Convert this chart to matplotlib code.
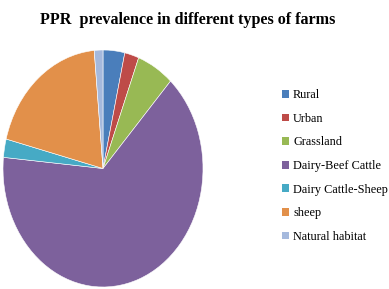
import matplotlib.pyplot as plt
from matplotlib.patches import Patch

labels = ["Rural", "Urban", "Grassland", "Dairy-Beef Cattle",
          "Dairy Cattle-Sheep", "sheep", "Natural habitat"]
values = [3.5, 2.3, 6.0, 64.7, 2.5, 19.6, 1.4]
colors = ["#4A7EBB", "#BE4B48", "#98B954", "#7D619C",
          "#46AAC5", "#E2904A", "#A5B9DD"]

W, H = 389, 289
fig = plt.figure(figsize=(W / 100, H / 100), dpi=100)

# pie is drawn stretched (ellipse) like in the original
ax = fig.add_axes([3 / W, 2 / H, 200 / W, 237 / H])
ax.pie(values, colors=colors, startangle=90, counterclock=False,
       wedgeprops=dict(edgecolor="white", linewidth=0.4))
ax.set_aspect("auto")
ax.set_xlim(-1, 1)
ax.set_ylim(-1, 1)
ax.axis("off")

fig.text(188 / W, 1 - 20 / H, "PPR  prevalence in different types of farms",
         ha="center", va="center", fontsize=11.6, fontweight="bold",
         family="Liberation Serif")

handles = [Patch(facecolor=c, edgecolor="none") for c in colors]
fig.legend(handles, labels, loc="upper left",
           bbox_to_anchor=(276 / W, 1 - 83 / H), frameon=False,
           prop=dict(family="Liberation Serif", size=8.8),
           handlelength=0.6, handleheight=0.6, handletextpad=0.3,
           labelspacing=0.95, borderpad=0)

fig.savefig("out.png", dpi=100)
